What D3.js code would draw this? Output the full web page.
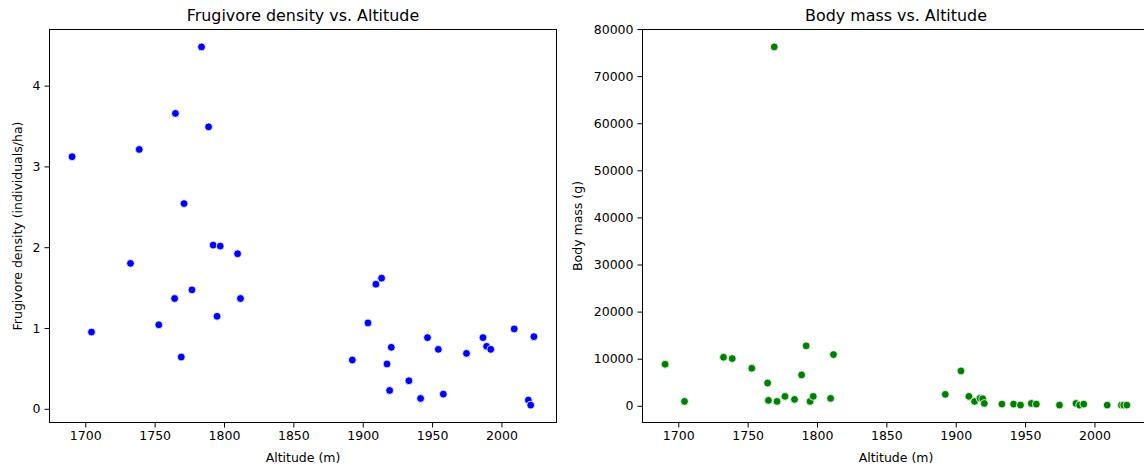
<!DOCTYPE html>
<html>
<head>
<meta charset="utf-8">
<script src="https://cdn.jsdelivr.net/npm/d3@7"></script>
<style>
  html, body { margin: 0; padding: 0; background: #fff; }
  svg { display: block; }
  text { font-family: "DejaVu Sans", sans-serif; fill: #000; }
</style>
</head>
<body>
<svg id="chart" width="1144" height="467"></svg>
<script>
// ---- data ----
const altitude = [
  1690.5, 1704.5, 1732.6, 1738.9, 1753.0, 1764.4, 1765.0, 1769.2, 1771.2, 1776.9,
  1783.8, 1788.9, 1792.2, 1795.0, 1797.3, 1809.8, 1811.9,
  1892.5, 1903.8, 1909.5, 1913.6, 1917.5, 1919.4, 1920.6, 1933.3, 1941.7, 1946.7,
  1954.5, 1958.1, 1974.8, 1986.7, 1989.3, 1992.3, 2009.2, 2019.4, 2021.1, 2023.4
];
const density = [
  3.12, 0.95, 1.80, 3.21, 1.04, 1.365, 3.656, 0.641, 2.54, 1.472,
  4.479, 3.49, 2.026, 1.145, 2.014, 1.919, 1.365,
  0.604, 1.063, 1.542, 1.617, 0.555, 0.227, 0.761, 0.347, 0.128, 0.881,
  0.736, 0.182, 0.686, 0.881, 0.773, 0.736, 0.989, 0.108, 0.046, 0.893
];
const bodyMass = [
  8820, 930, 10310, 10030, 7970, 4840, 1150, 76200, 930, 2000,
  1360, 6550, 12730, 930, 2000, 1570, 10880,
  2430, 7400, 2000, 930, 1600, 1500, 500, 360, 360, 150,
  500, 360, 150, 500, 150, 360, 150, 150, 150, 150
];
const xTicks = [1700, 1750, 1800, 1850, 1900, 1950, 2000];
const densityTicks = [0, 1, 2, 3, 4];
const massTicks = [0, 10000, 20000, 30000, 40000, 50000, 60000, 70000, 80000];

const titles = ["Frugivore density vs. Altitude", "Body mass vs. Altitude"];
const yLabels = ["Frugivore density (individuals/ha)", "Body mass (g)"];
const xLabel = "Altitude (m)";

// ---- layout ----
const svg = d3.select("#chart");
const plotTop = 29, plotBottom = 423;
const panels = [
  { x0: 49, x1: 557, y: density, ticks: densityTicks, color: "#0000ff", title: titles[0], ylab: yLabels[0], ylabX: 17 },
  { x0: 642, x1: 1150, y: bodyMass, ticks: massTicks, color: "#008000", title: titles[1], ylab: yLabels[1], ylabX: 577 }
];

function padded(ext) {
  const p = (ext[1] - ext[0]) * 0.05;
  return [ext[0] - p, ext[1] + p];
}

panels.forEach(p => {
  const x = d3.scaleLinear().domain(padded(d3.extent(altitude))).range([p.x0, p.x1]);
  const y = d3.scaleLinear().domain(padded(d3.extent(p.y))).range([plotBottom, plotTop]);
  const g = svg.append("g");

  const xa = g.append("g").attr("transform", `translate(0,${plotBottom})`)
    .call(d3.axisBottom(x).tickValues(xTicks).tickFormat(d3.format("d")).tickSize(4.5).tickPadding(4));
  xa.select(".domain").remove();
  xa.selectAll("line").attr("stroke", "#000").attr("stroke-width", 1);
  xa.selectAll("text").style("font-size", "12.5px").style("font-family", "DejaVu Sans").attr("fill", "#000");

  const ya = g.append("g").attr("transform", `translate(${p.x0},0)`)
    .call(d3.axisLeft(y).tickValues(p.ticks).tickFormat(d3.format("d")).tickSize(4.5).tickPadding(4));
  ya.select(".domain").remove();
  ya.selectAll("line").attr("stroke", "#000").attr("stroke-width", 1);
  ya.selectAll("text").style("font-size", "12.5px").style("font-family", "DejaVu Sans").attr("fill", "#000");

  g.append("g").selectAll("circle").data(altitude).join("circle")
    .attr("cx", (d) => x(d))
    .attr("cy", (d, i) => y(p.y[i]))
    .attr("r", 3.9)
    .attr("fill", p.color)
    .attr("stroke", "#fff")
    .attr("stroke-width", 0.8);

  g.append("rect")
    .attr("x", p.x0 + 0.5).attr("y", plotTop + 0.5)
    .attr("width", p.x1 - p.x0 - 1).attr("height", plotBottom - plotTop - 1)
    .attr("fill", "none").attr("stroke", "#000").attr("stroke-width", 1);

  g.append("text")
    .attr("x", (p.x0 + p.x1) / 2).attr("y", 21)
    .attr("text-anchor", "middle")
    .style("font-size", "15.9px")
    .text(p.title);

  g.append("text")
    .attr("x", (p.x0 + p.x1) / 2).attr("y", 462)
    .attr("text-anchor", "middle")
    .style("font-size", "12.5px")
    .text(xLabel);

  g.append("text")
    .attr("transform", `translate(${p.ylabX + 4.5},${(plotTop + plotBottom) / 2}) rotate(-90)`)
    .attr("text-anchor", "middle")
    .style("font-size", "12.5px")
    .text(p.ylab);
});
</script>
</body>
</html>
